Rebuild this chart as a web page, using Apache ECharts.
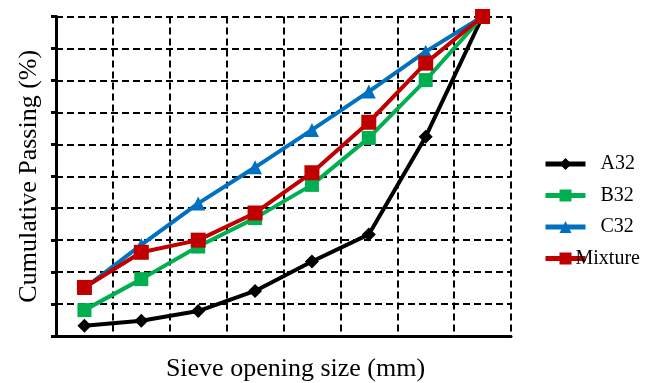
<!DOCTYPE html>
<html>
<head>
    <meta charset="utf-8">
    <script type="text/javascript" src="https://cdn.jsdelivr.net/npm/echarts@6/dist/echarts.min.js"></script>
    <style>
        html, body { margin: 0; padding: 0; background: #fff; }
    </style>
</head>
<body>
<div id="main" style="width:649px;height:383px"></div>
<script type="text/javascript">
    // sieve sizes (labels are hidden in the figure)
    var sieves = ['s1', 's2', 's3', 's4', 's5', 's6', 's7', 's8'];
    var a32 = [3.2, 4.8, 7.8, 14.1, 23.3, 31.8, 62.4, 100];
    var b32 = [8.1, 17.8, 28.0, 36.9, 47.3, 62.0, 80.1, 100];
    var c32 = [15.0, 28.5, 41.5, 52.8, 64.5, 76.5, 89.0, 100];
    var mixture = [15.2, 26.2, 30.0, 38.5, 51.1, 66.9, 85.4, 100];

    var font = '"Liberation Serif", "Times New Roman", serif';
    var gridDash = {color: '#000', width: 2, type: [7, 4]};

    function mkSeries(name, data, color, symbol, size) {
        return {
            name: name,
            type: 'line',
            data: data,
            symbol: symbol,
            symbolSize: size,
            lineStyle: {color: color, width: 4},
            itemStyle: {color: color},
            animation: false
        };
    }

    var myChart = echarts.init(document.getElementById('main'));
    var option = {
        textStyle: {fontFamily: font},
        grid: {left: 56, right: 138, top: 16.5, bottom: 47, outerBoundsMode: 'none', containLabel: false},
        legend: {
            orient: 'vertical',
            left: 543,
            top: 154,
            padding: 0,
            itemWidth: 40,
            itemHeight: 15,
            itemGap: 11.5,
            lineStyle: {width: 5},
            textStyle: {fontFamily: font, fontSize: 20, color: '#000', padding: [0, 0, 0, 10], overflow: 'none'},
            data: ['A32', 'B32', 'C32', {name: 'Mixture', textStyle: {padding: [0, 0, 0, -15]}}]
        },
        xAxis: {
            type: 'category',
            data: sieves,
            boundaryGap: true,
            name: 'Sieve opening size (mm)',
            nameLocation: 'middle',
            nameGap: 20,
            nameTextStyle: {fontFamily: font, fontSize: 26, color: '#000', padding: [0, 0, 0, 24]},
            axisLine: {lineStyle: {color: '#000', width: 3}},
            axisTick: {show: false},
            axisLabel: {show: false},
            splitLine: {show: true, lineStyle: gridDash}
        },
        yAxis: {
            type: 'value',
            min: 0,
            max: 100,
            interval: 10,
            name: 'Cumulative Passing (%)',
            nameLocation: 'middle',
            nameGap: 14,
            nameTextStyle: {fontFamily: font, fontSize: 26, color: '#000'},
            axisLine: {show: true, lineStyle: {color: '#000', width: 3}},
            axisTick: {show: true, length: 5, lineStyle: {color: '#000', width: 3}},
            axisLabel: {show: false},
            splitLine: {show: true, lineStyle: gridDash}
        },
        series: [
            mkSeries('A32', a32, '#000000', 'diamond', 14),
            mkSeries('B32', b32, '#00b050', 'rect', 14),
            mkSeries('C32', c32, '#0070c0', 'triangle', 14),
            mkSeries('Mixture', mixture, '#c00000', 'rect', 15)
        ]
    };
    myChart.setOption(option);
</script>
</body>
</html>
